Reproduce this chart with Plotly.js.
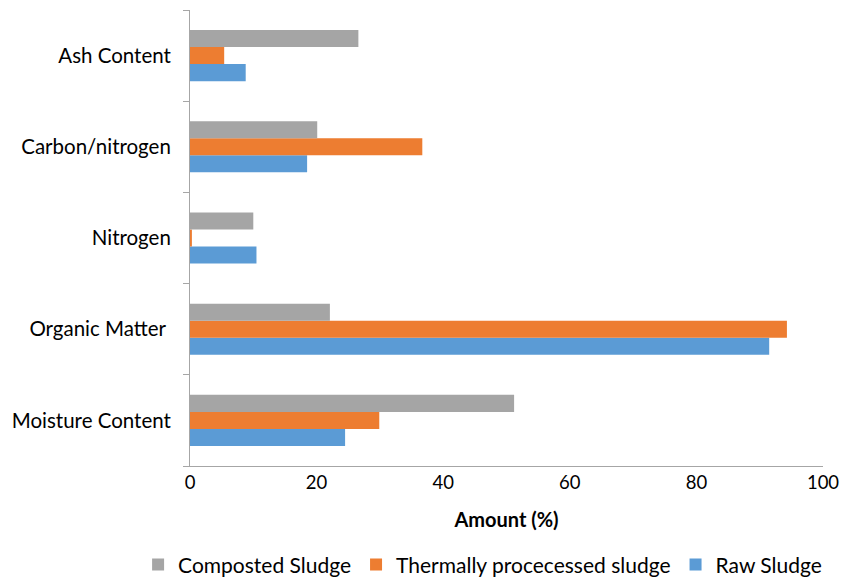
<!DOCTYPE html>
<html>
<head>
<meta charset="utf-8">
<script src="https://cdn.plot.ly/plotly-3.0.1.min.js"></script>
<style>html,body{margin:0;padding:0;background:#fff;overflow:hidden;}#chart{width:844px;height:577px;overflow:hidden;}</style>
</head>
<body>
<div id="chart"></div>
<script>
// Categories listed bottom-to-top
const categories = ["Moisture Content", "Organic Matter ", "Nitrogen", "Carbon/nitrogen", "Ash Content"];
const rawSludge = [24.5, 91.5, 10.5, 18.5, 8.8];
const thermalSludge = [29.9, 94.3, 0.3, 36.7, 5.4];
const compostedSludge = [51.2, 22.1, 10.0, 20.1, 26.6];
const xTicks = [0, 20, 40, 60, 80, 100];

const font = "Lato, 'Open Sans', sans-serif";

const traces = [
  {type: "bar", orientation: "h", name: "Raw Sludge", y: categories, x: rawSludge, marker: {color: "#5B9BD5"}},
  {type: "bar", orientation: "h", name: "Thermally procecessed sludge", y: categories, x: thermalSludge, marker: {color: "#ED7D31"}},
  {type: "bar", orientation: "h", name: "Composted Sludge", y: categories, x: compostedSludge, marker: {color: "#A5A5A5"}}
];

// Figure is slightly taller than the window so the legend's automatic
// 12px margin pad falls below the visible area.
const layout = {
  width: 844, height: 598,
  margin: {l: 190, r: 21, t: 10, b: 132},
  paper_bgcolor: "#fff", plot_bgcolor: "#fff",
  barmode: "group",
  bargap: 0.44, bargroupgap: 0,
  font: {family: font, size: 18, color: "#000"},
  xaxis: {
    range: [0, 100], tickvals: xTicks, ticktext: xTicks.map(String),
    showgrid: false, zeroline: false, showline: true, linecolor: "#A6A6A6", linewidth: 1,
    ticks: "", tickfont: {size: 18.5, family: font},
    title: {text: "<b>Amount (%)</b>", font: {size: 20, family: font}, standoff: 20}
  },
  yaxis: {
    type: "category", categoryorder: "array", categoryarray: categories,
    showgrid: false, zeroline: false, showline: true, linecolor: "#A6A6A6", linewidth: 1,
    ticks: "outside", tickson: "boundaries", ticklen: 6, tickcolor: "#A6A6A6",
    tickfont: {size: 20.5, family: font}, ticklabelstandoff: 14
  },
  showlegend: true,
  legend: {
    orientation: "h", traceorder: "reversed",
    xref: "paper", yref: "paper", x: -0.082, xanchor: "left", y: -0.217, yanchor: "middle",
    font: {size: 21, family: font}, itemwidth: 30
  }
};

Plotly.newPlot("chart", traces, layout, {displayModeBar: false, staticPlot: true});
</script>
</body>
</html>
